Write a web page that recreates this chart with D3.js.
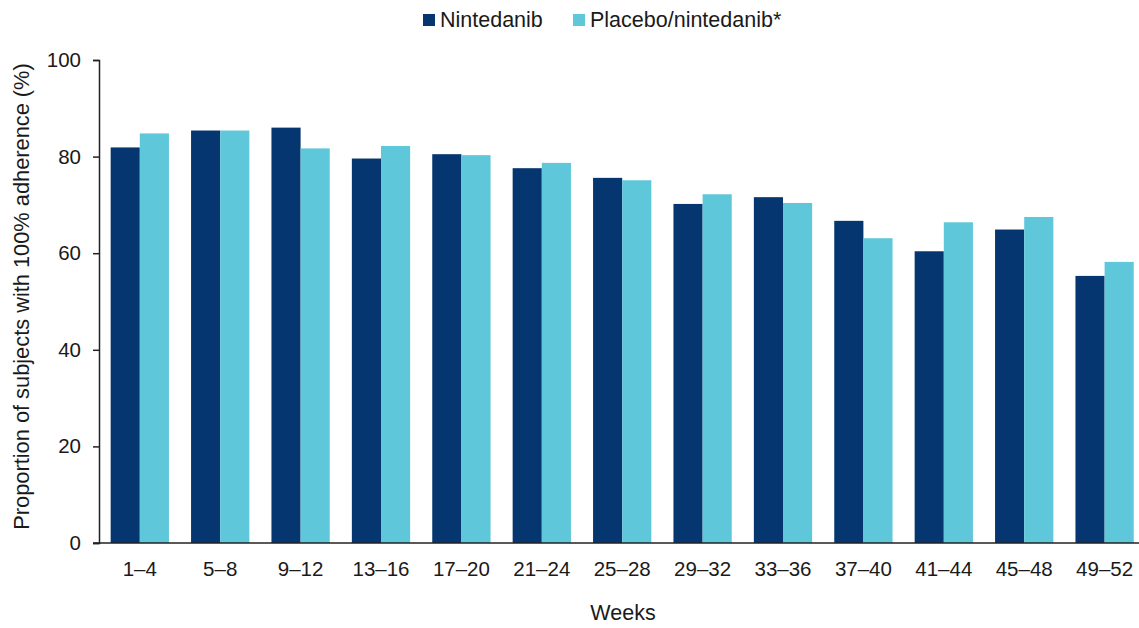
<!DOCTYPE html>
<html>
<head>
<meta charset="utf-8">
<script src="https://cdn.jsdelivr.net/npm/d3@7"></script>
<style>
  body { margin: 0; background: #fff; }
  text { font-family: "Liberation Sans", Arial, sans-serif; fill: #1a1a1a; }
</style>
</head>
<body>
<div id="chart"></div>
<script>
// data
const weeks = ["1–4", "5–8", "9–12", "13–16", "17–20", "21–24", "25–28", "29–32", "33–36", "37–40", "41–44", "45–48", "49–52"];
const nintedanib = [81.9, 85.4, 86.0, 79.6, 80.5, 77.6, 75.6, 70.2, 71.6, 66.7, 60.4, 64.9, 55.3];
const placeboNintedanib = [84.8, 85.4, 81.7, 82.2, 80.3, 78.7, 75.1, 72.2, 70.4, 63.1, 66.4, 67.5, 58.2];
const seriesNames = ["Nintedanib", "Placebo/nintedanib*"];
const seriesColors = ["#063670", "#5fc7da"];
const yTicks = [0, 20, 40, 60, 80, 100];

const width = 1139;
const height = 628;

const svg = d3.select("#chart")
  .append("svg")
  .attr("width", width)
  .attr("height", height);

const x = d3.scaleBand()
  .domain(weeks)
  .range([99.6, 1144.8])
  .paddingInner(0.275)
  .paddingOuter(0.1375);

const inner = d3.scaleBand()
  .domain(seriesNames)
  .range([0, x.bandwidth()]);

const y = d3.scaleLinear()
  .domain([0, 100])
  .range([543, 60]);

// bars
const rows = weeks.map((w, i) => ({ week: w, values: [nintedanib[i], placeboNintedanib[i]] }));

const groups = svg.selectAll("g.group")
  .data(rows)
  .enter()
  .append("g")
  .attr("class", "group")
  .attr("transform", d => `translate(${x(d.week)},0)`);

groups.selectAll("rect")
  .data(d => d.values.map((v, j) => ({ name: seriesNames[j], value: v, j })))
  .enter()
  .append("rect")
  .attr("x", d => inner(d.name))
  .attr("y", d => y(d.value))
  .attr("width", inner.bandwidth())
  .attr("height", d => y(0) - y(d.value))
  .attr("fill", d => seriesColors[d.j]);

// y axis
const yAxis = svg.append("g")
  .attr("transform", "translate(99,0)")
  .call(d3.axisLeft(y).tickValues(yTicks).tickSize(6).tickPadding(12));
yAxis.select(".domain").attr("stroke", "#222").attr("stroke-width", 1.5);
yAxis.selectAll(".tick line").attr("stroke", "#222").attr("stroke-width", 1.5);
yAxis.selectAll(".tick text").style("font-size", "20.5px");

// x axis
const xAxis = svg.append("g")
  .attr("transform", "translate(0,543)")
  .call(d3.axisBottom(x).tickSize(0).tickPadding(18));
xAxis.select(".domain").remove();
xAxis.selectAll(".tick text").style("font-size", "20.5px");
svg.append("line")
  .attr("x1", 93).attr("x2", width)
  .attr("y1", 543).attr("y2", 543)
  .attr("stroke", "#222").attr("stroke-width", 1.5);

// axis titles
svg.append("text")
  .attr("transform", `translate(29,${(y(0) + y(100)) / 2 - 5}) rotate(-90)`)
  .attr("text-anchor", "middle")
  .style("font-size", "21.8px")
  .text("Proportion of subjects with 100% adherence (%)");

svg.append("text")
  .attr("x", 623)
  .attr("y", 620)
  .attr("text-anchor", "middle")
  .style("font-size", "21.5px")
  .text("Weeks");

// legend
const legendX = [423, 573];
const legend = svg.selectAll("g.legend")
  .data(seriesNames)
  .enter()
  .append("g")
  .attr("class", "legend")
  .attr("transform", (d, i) => `translate(${legendX[i]},14)`);

legend.append("rect")
  .attr("width", 12)
  .attr("height", 12)
  .attr("fill", (d, i) => seriesColors[i]);

legend.append("text")
  .attr("x", 17)
  .attr("y", 13)
  .style("font-size", "21.5px")
  .text(d => d);
</script>
</body>
</html>
